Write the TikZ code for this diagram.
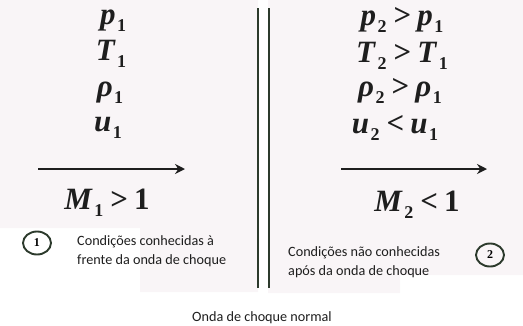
\documentclass[tikz,border=0pt]{standalone}
\usepackage{fontspec}
\usetikzlibrary{arrows.meta,shapes.geometric}
\newfontfamily\tmsfont{Liberation Serif}
\newfontfamily\carfont{Carlito}
\definecolor{bgpink}{HTML}{F9F5F7}
\definecolor{shockdark}{HTML}{2C3A2C}
\definecolor{inkdark}{HTML}{1E1E1E}
\newcommand{\vq}[2]{\textbf{\textit{#1}}\kern1.5pt\raisebox{-7pt}{\fontsize{18}{18}\selectfont\textbf{#2}}}
\newcommand{\rel}[1]{\hspace{7pt}\textbf{#1}\hspace{6pt}}
\tikzset{
  mt/.style={font=\tmsfont\fontsize{31}{34}\selectfont, text=inkdark, inner sep=0pt, anchor=base},
  lbl/.style={font=\carfont\fontsize{14.2}{19}\selectfont, text=inkdark, align=left, inner sep=0pt},
  arr/.style={line width=2.4pt, inkdark, -{Stealth[length=10pt,width=10pt]}},
  shock/.style={line width=2.6pt, shockdark},
  num/.style={ellipse, draw=shockdark, line width=1.9pt, minimum width=28pt, minimum height=23pt, inner sep=0pt, font=\tmsfont\bfseries\fontsize{12}{12}\selectfont}
}
\begin{document}
\begin{tikzpicture}[x=1pt,y=-1pt]
\useasboundingbox (0,0) rectangle (523,325);
% faint panels
\fill[bgpink] (0,0) -- (258,0) -- (258,292) -- (140,292) -- (140,228) -- (0,228) -- cycle;
\fill[bgpink] (268,0) -- (523,0) -- (523,275) -- (400,275) -- (400,293) -- (268,293) -- cycle;
% shock wave
\coordinate (s1t) at (258,8); \coordinate (s1b) at (258,288);
\coordinate (s2t) at (269,8); \coordinate (s2b) at (269,288);
\draw[shock] (s1t) -- (s1b);
\draw[shock] (s2t) -- (s2b);
% left column
\node[mt] (p1) at (113,24) {\vq{p}{1}};
\node[mt] (T1) at (111,60) {\vq{T}{1}};
\node[mt] (r1) at (110,96) {\vq{ρ}{1}};
\node[mt] (u1) at (108,131) {\vq{u}{1}};
\coordinate (a1s) at (38,169); \coordinate (a1e) at (185,169);
\draw[arr] (a1s) -- (a1e);
\node[mt] (M1) at (107,209) {\vq{M}{1}\rel{>}\textbf{1}};
% right column
\node[mt] (p2) at (402,25) {\vq{p}{2}\rel{>}\vq{p}{1}};
\node[mt] (T2) at (402,62) {\vq{T}{2}\rel{>}\vq{T}{1}};
\node[mt] (r2) at (400,96) {\vq{ρ}{2}\rel{>}\vq{ρ}{1}};
\node[mt] (u2) at (395,133) {\vq{u}{2}\rel{<}\vq{u}{1}};
\coordinate (a2s) at (341,169); \coordinate (a2e) at (487,169);
\draw[arr] (a2s) -- (a2e);
\node[mt] (M2) at (417,211) {\vq{M}{2}\rel{<}\textbf{1}};
% labels
\node[num] (n1) at (37,243) {1};
\node[lbl, anchor=west] (c1) at (77,251) {Condições conhecidas à\\frente da onda de choque};
\node[num] (n2) at (490,255) {2};
\node[lbl, anchor=west] (c2) at (288,262) {Condições não conhecidas\\após da onda de choque};
\node[lbl, anchor=center] (cap) at (262,318) {Onda de choque normal};
\end{tikzpicture}
\end{document}
